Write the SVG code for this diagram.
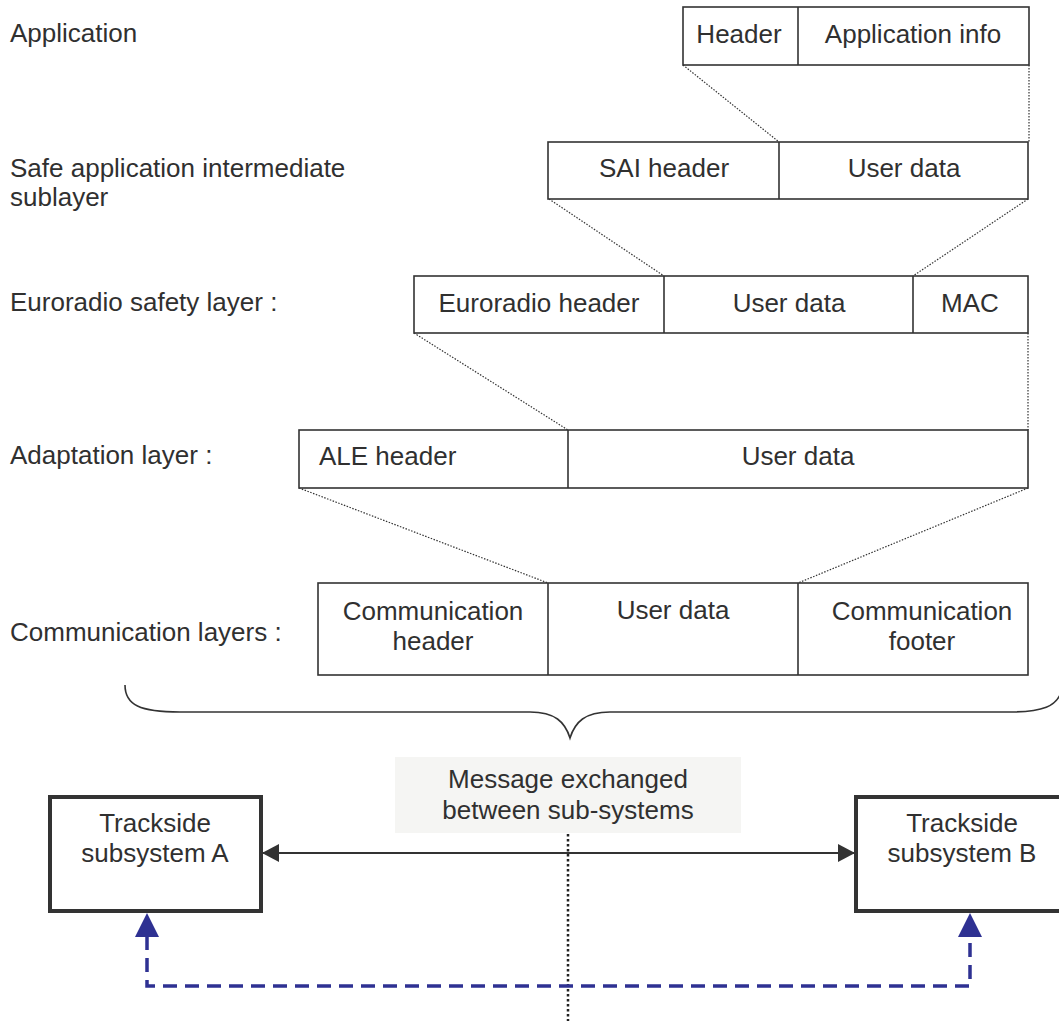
<svg xmlns="http://www.w3.org/2000/svg" width="1059" height="1021" viewBox="0 0 1059 1021">
<defs>
<style>
text{font-family:"Liberation Sans",Arial,sans-serif;font-size:26px;fill:#303030}
.c{text-anchor:middle}
.box{fill:#fff;stroke:#333;stroke-width:1.6}
.div{stroke:#333;stroke-width:1.6}
.dot{stroke:#333;stroke-width:1.2;stroke-dasharray:1.5 1.5;fill:none}
.sys{fill:#fff;stroke:#333;stroke-width:4}
.blue{fill:none;stroke:#2e3192;stroke-width:3.5;stroke-dasharray:14 8}
</style>
<marker id="ah" viewBox="0 0 17 18" refX="17" refY="9" markerWidth="17" markerHeight="18" orient="auto-start-reverse" markerUnits="userSpaceOnUse">
<path d="M0,0 L17,9 L0,18 z" fill="#333"/>
</marker>
</defs>
<rect width="1059" height="1021" fill="#fff"/>

<g id="labels">
<text x="10" y="42">Application</text>
<text x="10" y="177">Safe application intermediate</text>
<text x="10" y="206">sublayer</text>
<text x="10" y="311">Euroradio safety layer :</text>
<text x="10" y="464">Adaptation layer :</text>
<text x="10" y="641">Communication layers :</text>
</g>

<g id="connectors">
<line class="dot" x1="683" y1="65" x2="779" y2="142"/>
<line class="dot" x1="1029" y1="65" x2="1029" y2="142"/>
<line class="dot" x1="549" y1="199" x2="664" y2="276"/>
<line class="dot" x1="1028" y1="199" x2="913" y2="276"/>
<line class="dot" x1="414" y1="333" x2="568" y2="430"/>
<line class="dot" x1="1028" y1="333" x2="1028" y2="430"/>
<line class="dot" x1="299" y1="488" x2="548" y2="583"/>
<line class="dot" x1="1028" y1="488" x2="798" y2="583"/>
<path d="M125,685 C125,705 140,712 180,712 L530,712 C555,712 565,722 570,738 C575,722 585,712 610,712 L1010,712 C1045,712 1055,705 1060,695" fill="none" stroke="#333" stroke-width="1.6"/>
<line x1="262" y1="853" x2="855" y2="853" stroke="#333" stroke-width="2" marker-start="url(#ah)" marker-end="url(#ah)"/>
<line x1="568" y1="834" x2="568" y2="1021" stroke="#222" stroke-width="2.5" stroke-dasharray="2.5 2.5"/>
<path class="blue" d="M147,936 L147,986 L970,986 L970,936"/>
<polygon points="147,913 135,937 159,937" fill="#2e3192"/>
<polygon points="970,913 958,937 982,937" fill="#2e3192"/>
</g>

<g id="app">
<rect class="box" x="683" y="7" width="346" height="58"/>
<line class="div" x1="798" y1="7" x2="798" y2="65"/>
<text class="c" x="739" y="43">Header</text>
<text class="c" x="913" y="43">Application info</text>
</g>

<g id="sai">
<rect class="box" x="548" y="142" width="480" height="57"/>
<line class="div" x1="779" y1="142" x2="779" y2="199"/>
<text class="c" x="664" y="177">SAI header</text>
<text class="c" x="904" y="177">User data</text>
</g>

<g id="euroradio">
<rect class="box" x="414" y="276" width="614" height="57"/>
<line class="div" x1="664" y1="276" x2="664" y2="333"/>
<line class="div" x1="913" y1="276" x2="913" y2="333"/>
<text class="c" x="539" y="312">Euroradio header</text>
<text class="c" x="789" y="312">User data</text>
<text class="c" x="970" y="312">MAC</text>
</g>

<g id="adaptation">
<rect class="box" x="299" y="430" width="729" height="58"/>
<line class="div" x1="568" y1="430" x2="568" y2="488"/>
<text x="319" y="465">ALE header</text>
<text class="c" x="798" y="465">User data</text>
</g>

<g id="communication">
<rect class="box" x="318" y="583" width="710" height="92"/>
<line class="div" x1="548" y1="583" x2="548" y2="675"/>
<line class="div" x1="798" y1="583" x2="798" y2="675"/>
<text class="c" x="433" y="620">Communication</text>
<text class="c" x="433" y="650">header</text>
<text class="c" x="673" y="619">User data</text>
<text class="c" x="922" y="620">Communication</text>
<text class="c" x="922" y="650">footer</text>
</g>

<g id="message">
<rect x="395" y="757" width="346" height="76" fill="#f5f5f3"/>
<text class="c" x="568" y="788">Message exchanged</text>
<text class="c" x="568" y="819">between sub-systems</text>
</g>

<g id="subsysA">
<rect class="sys" x="50" y="797" width="211" height="114"/>
<text class="c" x="155" y="832">Trackside</text>
<text class="c" x="155" y="862">subsystem A</text>
</g>

<g id="subsysB">
<rect class="sys" x="856" y="797" width="210" height="114"/>
<text class="c" x="962" y="832">Trackside</text>
<text class="c" x="962" y="862">subsystem B</text>
</g>
</svg>
